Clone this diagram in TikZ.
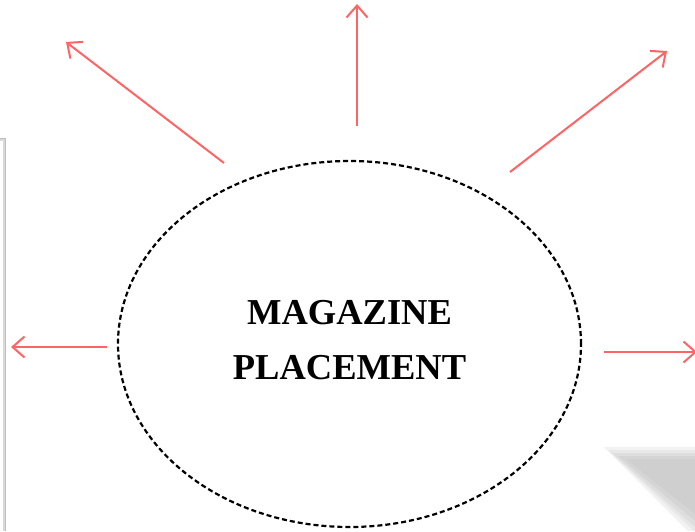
\documentclass[tikz,border=0pt]{standalone}
\usepackage{fontspec}
\setmainfont{Liberation Serif}
\usetikzlibrary{shapes.geometric,arrows.meta}
\definecolor{arrowred}{HTML}{FF6464}
\begin{document}
\begin{tikzpicture}[x=1pt,y=-1pt,
  spoke/.style={draw=arrowred, line width=2pt, -{Straight Barb[length=12pt,width=21pt,line width=2pt]}},
  hub/.style={ellipse, draw=black, dashed, dash pattern=on 5pt off 3pt, line width=2.2pt,
     minimum width=463pt, minimum height=366pt, inner sep=0pt},
  hubtext/.style={font=\fontsize{36.5}{55}\selectfont\bfseries, align=center, inner sep=0pt}]
\useasboundingbox (0,0) rectangle (695,531);
% page edge on the left
\draw[gray!30, line width=3pt] (0,139) -- (4.5,139) -- (4.5,531);
\draw[gray!50, line width=1pt] (0,138.5) -- (5,138.5) -- (5,531);
% soft shadow lower right
\fill[gray!10] (604,447) -- (695,447) -- (695,531) -- (688,531) -- cycle;
\fill[gray!18] (608,450) -- (695,450) -- (695,531) -- (694,531) -- cycle;
\fill[gray!26] (612,453) -- (695,453) -- (695,527) -- cycle;
\fill[gray!33] (618,456) -- (695,456) -- (695,521) -- cycle;
\fill[gray!38] (626,459) -- (695,459) -- (695,514) -- cycle;
% hub
\node[hub] (hub) at (349.5,344) {};
\node[hubtext] (label) at (349.5,340) {MAGAZINE\\PLACEMENT};
% spoke end points
\coordinate (tlA) at (224,163); \coordinate (tlB) at (66,42);
\coordinate (tA) at (357,126);  \coordinate (tB) at (357,4);
\coordinate (trA) at (510,172); \coordinate (trB) at (667,51);
\coordinate (lA) at (107,347);  \coordinate (lB) at (11,347);
\coordinate (rA) at (604,352);  \coordinate (rB) at (697,352);
\draw[spoke] (tlA) -- (tlB);
\draw[spoke] (tA) -- (tB);
\draw[spoke] (trA) -- (trB);
\draw[spoke] (lA) -- (lB);
\draw[spoke] (rA) -- (rB);
\end{tikzpicture}
\end{document}
